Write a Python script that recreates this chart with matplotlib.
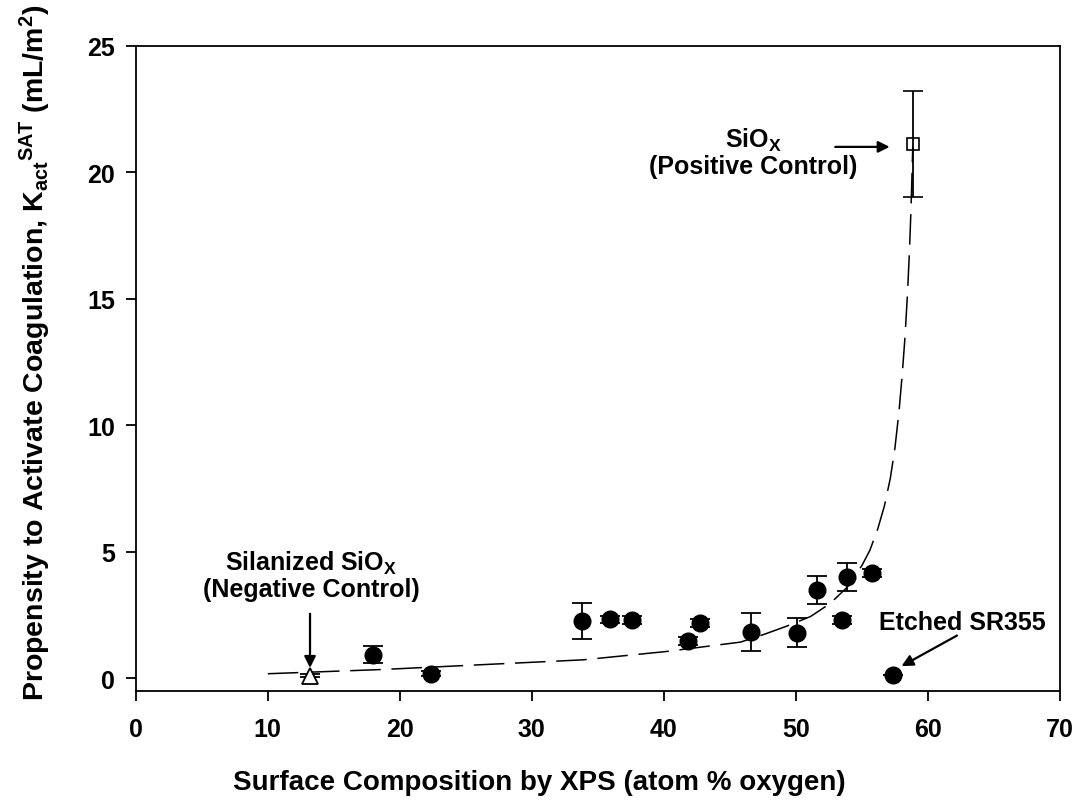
import matplotlib
matplotlib.use("Agg")
import matplotlib.pyplot as plt

plt.rcParams['font.family'] = ['Liberation Sans', 'DejaVu Sans']
plt.rcParams['font.weight'] = 'bold'
plt.rcParams['mathtext.fontset'] = 'custom'
plt.rcParams['mathtext.bf'] = 'Liberation Sans:bold'
plt.rcParams['mathtext.rm'] = 'Liberation Sans:bold'
plt.rcParams['mathtext.it'] = 'Liberation Sans:bold'
plt.rcParams['mathtext.default'] = 'bf'

# surfaces (filled circles)
x_surf = [18.0, 22.4, 33.8, 35.9, 37.6, 41.8, 42.75, 46.6, 50.1, 51.6, 53.5, 53.9, 55.75, 57.35]
y_surf = [0.93, 0.17, 2.25, 2.32, 2.30, 1.46, 2.17, 1.82, 1.79, 3.49, 2.30, 3.99, 4.15, 0.12]
e_surf = [0.33, 0.10, 0.72, 0.15, 0.15, 0.15, 0.15, 0.76, 0.57, 0.55, 0.15, 0.55, 0.15, 0.0]

# controls
x_neg, y_neg, e_neg = [13.2], [0.10], [0.05]
x_pos, y_pos, e_pos = [58.85], [21.1], [2.1]

# fitted trend
x_fit = [10.0, 18.8, 26.3, 33.9, 40.2, 45.8, 47.5, 49.3, 51.1, 52.6, 53.9, 55.0, 55.6,
         56.2, 56.7, 57.15, 57.5, 57.8, 58.05, 58.25, 58.45, 58.6, 58.72, 58.85]
y_fit = [0.17, 0.34, 0.53, 0.72, 1.05, 1.42, 1.71, 2.05, 2.43, 2.95, 3.6, 4.45, 5.05,
         5.9, 6.8, 7.9, 9.1, 10.5, 12.0, 13.4, 15.2, 16.9, 18.6, 21.0]

x_ticks = [0, 10, 20, 30, 40, 50, 60, 70]
y_ticks = [0, 5, 10, 15, 20, 25]

fig = plt.figure(figsize=(10.78, 8.04), dpi=100)
ax = fig.add_axes([0.1259, 0.1397, 0.8574, 0.8022])

ax.plot(x_fit, y_fit, color='black', lw=1.1, dashes=(20, 7), zorder=1)

ax.errorbar(x_surf, y_surf, yerr=e_surf, fmt='o', ms=12, mfc='black', mec='black',
            ecolor='black', elinewidth=1.3, capsize=7, capthick=1.3, zorder=3)
ax.errorbar(x_neg, y_neg, yerr=e_neg, fmt='^', ms=11, mfc='white', mec='black', mew=1.3,
            ecolor='black', elinewidth=1.3, capsize=7, capthick=1.3, zorder=3)
ax.errorbar(x_pos, y_pos, yerr=e_pos, fmt='s', ms=9, mfc='none', mec='black', mew=1.2,
            ecolor='black', elinewidth=1.3, capsize=7, capthick=1.3, zorder=3)

ax.set_xlim(0, 70)
ax.set_ylim(-0.5, 25)
ax.set_xticks(x_ticks)
ax.set_yticks(y_ticks)
ax.tick_params(direction='out', length=7, width=1.3, labelsize=18)
ax.tick_params(axis='x', pad=12)
ax.tick_params(axis='y', pad=8)
for lab in ax.get_xticklabels() + ax.get_yticklabels():
    lab.set_fontweight('heavy')
for s in ax.spines.values():
    s.set_linewidth(1.3)

ax.set_xlabel('Surface Composition by XPS (atom % oxygen)', fontsize=20, fontweight='bold')
ax.xaxis.set_label_coords(0.437, -0.122)
ax.set_ylabel('Propensity to Activate Coagulation, K$_{act}$$^{SAT}$ (mL/m$^2$)',
              fontsize=20.5, fontweight='bold')
ax.yaxis.set_label_coords(-0.09, 0.525)

arr = dict(arrowstyle='-|>', color='black', lw=1.6, mutation_scale=17, shrinkA=0, shrinkB=0)
ax.text(13.3, 4.06, 'Silanized SiO$_X$\n(Negative Control)', ha='center', va='center',
        fontsize=18, fontweight='bold', linespacing=1.05)
ax.annotate('', xy=(13.2, 0.4), xytext=(13.2, 2.54), arrowprops=arr)

ax.text(46.75, 20.8, 'SiO$_X$\n(Positive Control)', ha='center', va='center',
        fontsize=18, fontweight='bold', linespacing=1.05)
ax.annotate('', xy=(57.1, 21.0), xytext=(52.98, 21.0), arrowprops=arr)

ax.text(62.6, 2.21, 'Etched SR355', ha='center', va='center', fontsize=18, fontweight='bold')
ax.annotate('', xy=(58.0, 0.47), xytext=(62.2, 1.68), arrowprops=arr)

fig.savefig('out.png', dpi=100)
